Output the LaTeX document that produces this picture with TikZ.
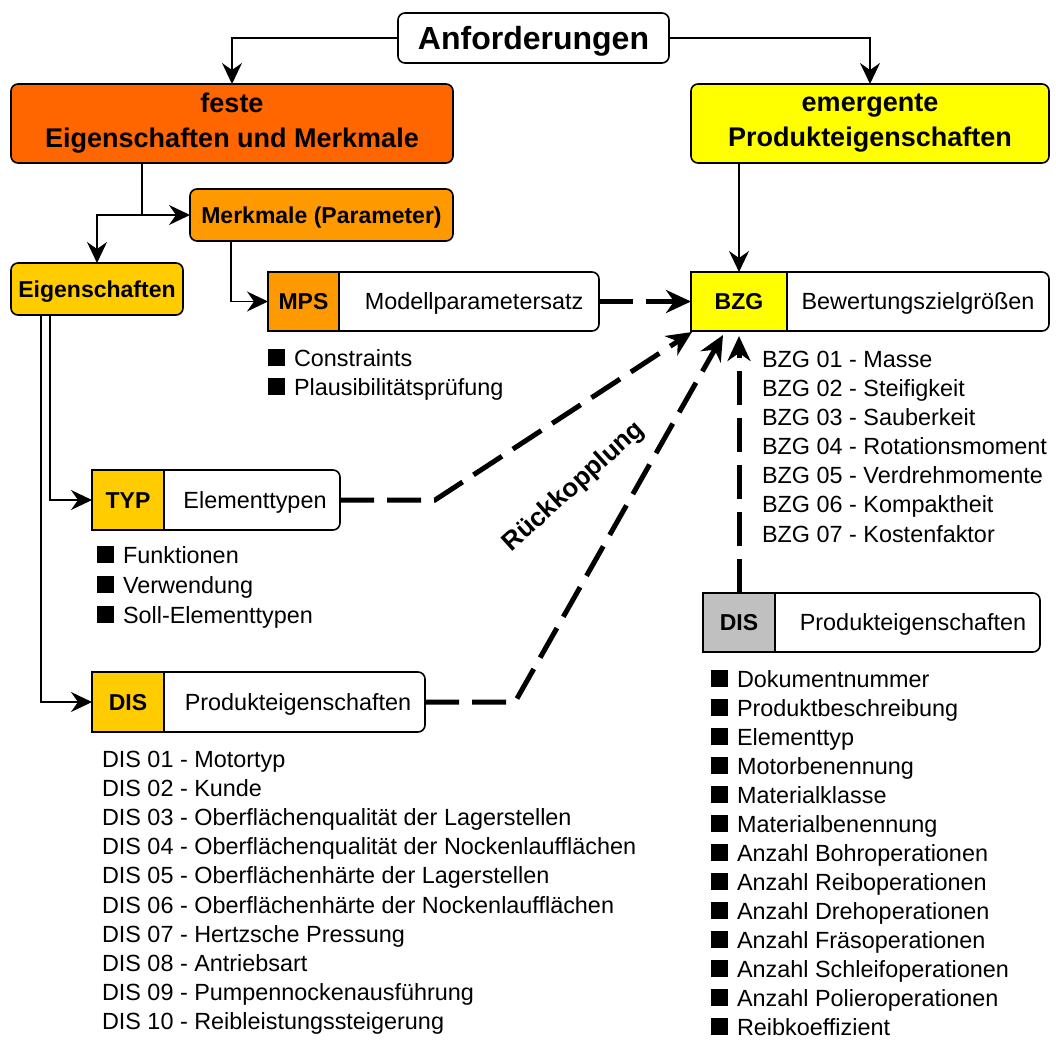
\documentclass[tikz,border=0pt]{standalone}
\usepackage{fontspec}
\setmainfont{Liberation Sans}
\usetikzlibrary{arrows.meta,calc}
\definecolor{cRed}{HTML}{FF6600}
\definecolor{cOrange}{HTML}{FF9900}
\definecolor{cGold}{HTML}{FFCC00}
\definecolor{cYellow}{HTML}{FFFF00}
\definecolor{cGrey}{HTML}{C0C0C0}
% filled square used as list bullet
\newcommand{\sqb}{\rule{17pt}{17pt}\hspace{9pt}}

\begin{document}
\begin{tikzpicture}[x=1pt,y=-1pt,
  every node/.style={inner sep=0pt, outer sep=0pt},
  txt/.style={font=\fontsize{23.4}{29}\selectfont, text height=16.8pt, text depth=0pt},
  btxt/.style={font=\fontsize{23}{29}\selectfont\bfseries, text height=16.5pt, text depth=0pt},
  box/.style={draw, line width=1.6pt, rounded corners=7pt, align=center},
  tag/.style={draw, line width=1.6pt, btxt},
  entry/.style={font=\fontsize{23.4}{29}\selectfont, anchor=base west},
  conn/.style={line width=1.8pt, -{Stealth[length=21pt,width=20pt,inset=7pt]}},
  fb/.style={line width=5pt, dash pattern=on 34pt off 13pt, -{Stealth[length=25pt,width=23pt,inset=8pt]}},
]
\useasboundingbox (0,0) rectangle (1056,1039);

% top level
\node[box, minimum width=271, minimum height=50,
      font=\fontsize{32}{38}\selectfont\bfseries, text height=23pt, text depth=0pt]
      (anf) at (533.5,38) {Anforderungen};
\node[box, fill=cRed, minimum width=442, minimum height=79,
      font=\fontsize{27}{35}\selectfont\bfseries] (feste) at (232,123.5)
      {feste\\Eigenschaften und Merkmale};
\node[box, fill=cYellow, minimum width=358, minimum height=79,
      font=\fontsize{27}{35}\selectfont\bfseries] (emerg) at (870,123.5)
      {emergente\\Produkteigenschaften};

% second level
\node[box, btxt, fill=cOrange, minimum width=263, minimum height=52] (merk) at (321.5,215) {Merkmale (Parameter)};
\node[box, btxt, fill=cGold, minimum width=172, minimum height=52] (eig) at (97,289) {Eigenschaften};

% split boxes: rounded white body, square coloured tag on the left
\node[box, fill=white, minimum width=331, minimum height=59] (mps) at (433.5,301.5) {};
\node[tag, fill=cOrange, minimum width=71, minimum height=59] (mpsl) at (303.5,301.5) {MPS};
\node[txt] (mpst) at (474,301.5) {Modellparametersatz};

\node[box, fill=white, minimum width=358, minimum height=59] (bzg) at (870,301.5) {};
\node[tag, fill=cYellow, minimum width=96, minimum height=59] (bzgl) at (739,301.5) {BZG};
\node[txt] (bzgt) at (918,301.5) {Bewertungszielgrößen};

\node[box, fill=white, minimum width=248, minimum height=60] (typ) at (216,500) {};
\node[tag, fill=cGold, minimum width=72, minimum height=60] (typl) at (128,500) {TYP};
\node[txt] (typt) at (255,500) {Elementtypen};

\node[box, fill=white, minimum width=333, minimum height=60] (disl) at (258.5,702) {};
\node[tag, fill=cGold, minimum width=72, minimum height=60] (disll) at (128,702) {DIS};
\node[txt] (dislt) at (298,702) {Produkteigenschaften};

\node[box, fill=white, minimum width=337, minimum height=59] (disr) at (871.5,622.5) {};
\node[tag, fill=cGrey, minimum width=72, minimum height=59] (disrl) at (739,622.5) {DIS};
\node[txt] (disrt) at (913,622.5) {Produkteigenschaften};

% solid connectors
\draw[conn] (anf.west) -| (feste.north);
\draw[conn] (anf.east) -| (emerg.north);
\coordinate (fj) at (142,215);
\draw[line width=1.8pt] (feste.south -| fj) -- (fj);
\draw[conn] (fj) -- (merk.west);
\draw[conn] (fj) -| (eig.north);
\draw[conn] (emerg.south -| bzgl.north) -- (bzgl.north);
\draw[conn] ([xshift=41pt]merk.south west) |- (mpsl.west);
\draw[conn] ([xshift=39pt]eig.south west) |- (typl.west);
\draw[conn] ([xshift=30pt]eig.south west) |- (disll.west);

% feedback connectors
\draw[fb] (mps.east) -- (bzgl.west);
\draw[fb] (typ.east) -- ++(95,0) -- ($(bzgl.south west)+(1,1)$);
\draw[fb] (disl.east) -- ++(90,0) -- ($(bzgl.south)+(-16,4)$);
\draw[fb] (disrl.north) -- ($(bzgl.south)+(0,5)$);

\node[font=\fontsize{26}{30}\selectfont\bfseries, rotate=42] (rk) at (574,487) {Rückkopplung};

% lists
\foreach [count=\i] \lab in {Constraints, Plausibilitätsprüfung}
  \node[entry] (mpsi\i) at (268,{366+29*(\i-1)}) {\sqb\lab};
\foreach [count=\i] \lab in {Funktionen, Verwendung, Soll-Elementtypen}
  \node[entry] (typi\i) at (97,{563+30*(\i-1)}) {\sqb\lab};
\foreach [count=\i] \lab in {BZG 01 - Masse, BZG 02 - Steifigkeit, BZG 03 - Sauberkeit,
    BZG 04 - Rotationsmoment, BZG 05 - Verdrehmomente, BZG 06 - Kompaktheit,
    BZG 07 - Kostenfaktor}
  \node[entry] (bzgi\i) at (762,{367+29.17*(\i-1)}) {\lab};
\foreach [count=\i] \lab in {DIS 01 - Motortyp, DIS 02 - Kunde,
    DIS 03 - Oberflächenqualität der Lagerstellen,
    DIS 04 - Oberflächenqualität der Nockenlaufflächen,
    DIS 05 - Oberflächenhärte der Lagerstellen,
    DIS 06 - Oberflächenhärte der Nockenlaufflächen,
    DIS 07 - Hertzsche Pressung, DIS 08 - Antriebsart,
    DIS 09 - Pumpennockenausführung, DIS 10 - Reibleistungssteigerung}
  \node[entry] (disli\i) at (102,{767+29.2*(\i-1)}) {\lab};
\foreach [count=\i] \lab in {Dokumentnummer, Produktbeschreibung, Elementtyp,
    Motorbenennung, Materialklasse, Materialbenennung, Anzahl Bohroperationen,
    Anzahl Reiboperationen, Anzahl Drehoperationen, Anzahl Fräsoperationen,
    Anzahl Schleifoperationen, Anzahl Polieroperationen, Reibkoeffizient}
  \node[entry] (disri\i) at (711,{687+29*(\i-1)}) {\sqb\lab};
\end{tikzpicture}
\end{document}
